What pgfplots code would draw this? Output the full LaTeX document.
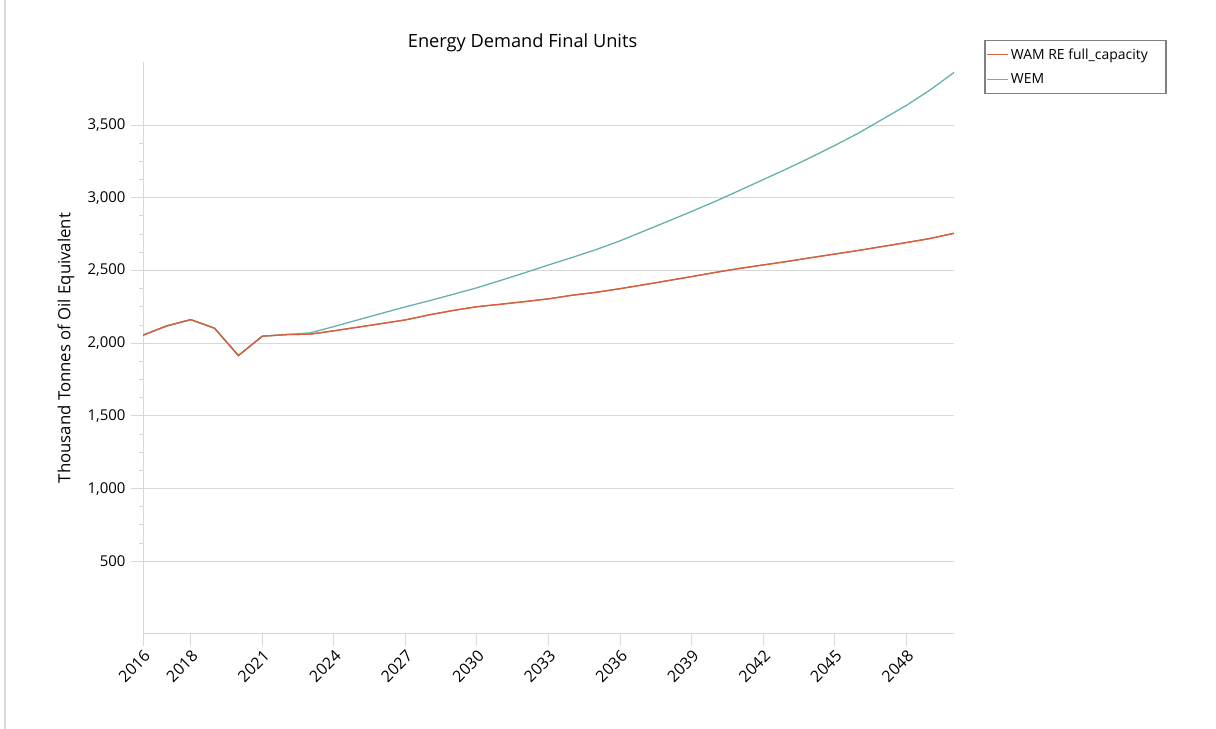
\documentclass[border=0pt]{standalone}
\usepackage{fontspec}
\setmainfont{Open Sans}
\usepackage{pgfplots}
\usepackage{pgfplotstable}
\pgfplotsset{compat=1.18}
\definecolor{wam}{RGB}{213,96,64}
\definecolor{wem}{RGB}{104,176,172}
\definecolor{gridc}{RGB}{216,216,216}
\definecolor{legc}{RGB}{128,128,128}

\pgfplotstableread{
year val
2016 2055
2017 2119
2018 2162
2019 2103
2020 1915
2021 2048
2022 2059
2023 2062
2024 2085
2025 2110
2026 2135
2027 2160
2028 2195
2029 2225
2030 2251
2031 2268
2032 2286
2033 2305
2034 2330
2035 2350
2036 2375
2037 2402
2038 2430
2039 2458
2040 2487
2041 2514
2042 2538
2043 2562
2044 2588
2045 2613
2046 2638
2047 2665
2048 2692
2049 2720
2050 2756
}\wamdata

\pgfplotstableread{
year val
2016 2055
2017 2119
2018 2162
2019 2103
2020 1915
2021 2048
2022 2059
2023 2071
2024 2114
2025 2160
2026 2205
2027 2250
2028 2292
2029 2336
2030 2381
2031 2432
2032 2484
2033 2538
2034 2590
2035 2644
2036 2704
2037 2771
2038 2838
2039 2906
2040 2976
2041 3050
2042 3125
2043 3200
2044 3278
2045 3360
2046 3445
2047 3540
2048 3635
2049 3742
2050 3862
}\wemdata

\begin{document}
\begin{tikzpicture}[x=1bp,y=1bp]
\path[use as bounding box] (0,0) rectangle (1216,729);
\draw[gridc, line width=1.5bp] (5,0) -- (5,729);
\begin{axis}[
  at={(143bp,95bp)}, anchor=south west,
  scale only axis, width=811bp, height=572bp,
  xmin=2016, xmax=2050, ymin=0, ymax=3934,
  axis x line*=bottom, axis y line*=left,
  axis line style={gridc, line width=1bp},
  xtick={2016,2018,2021,2024,2027,2030,2033,2036,2039,2042,2045,2048},
  ytick={500,1000,1500,2000,2500,3000,3500},
  minor y tick num=3,
  ymajorgrids,
  major grid style={gridc, line width=1bp},
  tick style={gridc, line width=1bp},
  major tick length=12bp, minor tick length=4bp,
  tick align=outside,
  /pgf/number format/assume math mode=true,
  x tick label style={/pgf/number format/1000 sep={}, rotate=45, anchor=north east, font=\fontsize{16}{16}\selectfont, inner sep=2bp},
  y tick label style={/pgf/number format/1000 sep={,}, font=\fontsize{15}{15}\selectfont, xshift=-2bp},
  title={Energy Demand Final Units},
  title style={at={(0.468,1)}, anchor=base, yshift=9bp, font=\fontsize{18.3}{18.3}\selectfont},
  ylabel={Thousand Tonnes of Oil Equivalent},
  every axis y label/.style={at={(-0.095,0.5)}, rotate=90, anchor=center, font=\fontsize{16.8}{16.8}\selectfont},
  legend style={at={(1.037,1.0385)}, anchor=north west, draw=legc, line width=1.5bp,
    font=\fontsize{14}{14}\selectfont, inner xsep=2bp, inner ysep=6bp, row sep=9bp},
  legend cell align=left,
  legend image code/.code={\draw[#1, line width=1.2bp] (0bp,0bp) -- (21bp,0bp);},
]
\addplot[wam, line width=1.3bp] table[x=year, y=val] {\wamdata};
\addlegendentry{WAM RE full\_capacity\rule{14bp}{0bp}}
\addplot[wem, line width=1.3bp] table[x=year, y=val] {\wemdata};
\addlegendentry{WEM}
\addplot[wam, line width=1.3bp, forget plot] table[x=year, y=val] {\wamdata};
\end{axis}
\end{tikzpicture}
\end{document}
